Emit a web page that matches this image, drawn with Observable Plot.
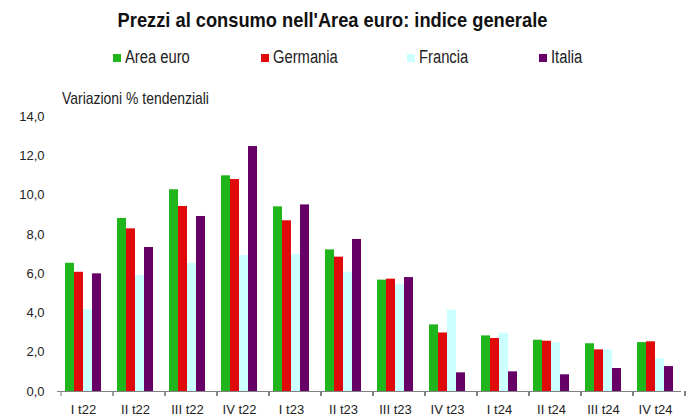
<!DOCTYPE html>
<html>
<head>
<meta charset="utf-8">
<script src="https://cdn.jsdelivr.net/npm/d3@7"></script>
<script src="https://cdn.jsdelivr.net/npm/@observablehq/plot@0.6"></script>
<style>
  body { margin: 0; background: #fff; font-family: "Liberation Sans", Arial, sans-serif; color: #222; }
  #wrap { position: relative; width: 691px; height: 417px; overflow: hidden; background: #fff; }
  #title { position: absolute; left: 0; width: 665px; top: 8px; text-align: center; font-weight: bold; font-size: 21px; color: #111; transform: scaleX(0.87); transform-origin: 332.5px 0; white-space: nowrap; }
  #legend { position: absolute; left: 0; top: 47px; width: 691px; height: 24px; font-size: 18px; color: #222; }
  #legend .item { position: absolute; top: 0; display: flex; align-items: center; white-space: nowrap; }
  #legend .sw { width: 8px; height: 8px; margin-right: 4px; flex: none; }
  #legend .tx { display: inline-block; transform: scaleX(0.82); transform-origin: 0 50%; }
  #sub { position: absolute; left: 62px; top: 89px; font-size: 17px; color: #222; transform: scaleX(0.82); transform-origin: 0 0; white-space: nowrap; z-index: 2; }
  #chart { position: absolute; left: 0; top: 80px; z-index: 1; }
</style>
</head>
<body>
<div id="wrap">
  <div id="title">Prezzi al consumo nell'Area euro: indice generale</div>
  <div id="legend"></div>
  <div id="chart"></div>
  <div id="sub">Variazioni % tendenziali</div>
</div>
<script>
const quarters = ["I t22","II t22","III t22","IV t22","I t23","II t23","III t23","IV t23","I t24","II t24","III t24","IV t24"];
const series = ["Area euro","Germania","Francia","Italia"];
const colors = ["#1fb51b","#e00a0a","#ccffff","#660066"];
const areaEuro = [6.53, 8.81, 10.27, 10.98, 9.40, 7.21, 5.67, 3.39, 2.83, 2.61, 2.43, 2.49];
const germania = [6.07, 8.28, 9.42, 10.79, 8.69, 6.84, 5.72, 2.98, 2.70, 2.56, 2.12, 2.53];
const francia  = [4.17, 5.90, 6.52, 6.92, 6.97, 6.07, 5.45, 4.14, 2.97, 2.49, 2.12, 1.66];
const italia   = [5.99, 7.33, 8.91, 12.47, 9.50, 7.74, 5.80, 0.95, 1.00, 0.85, 1.17, 1.27];
const yTicks = [0, 2, 4, 6, 8, 10, 12, 14];

// layout (legend item left edges, px)
const legendLefts = [113, 261, 407, 539];

const seriesValues = [areaEuro, germania, francia, italia];
const data = quarters.flatMap((q, i) => series.map((s, j) => ({q, s, v: seriesValues[j][i]})));

// legend
const legend = document.getElementById("legend");
series.forEach((s, j) => {
  const it = document.createElement("div");
  it.className = "item";
  it.style.left = legendLefts[j] + "px";
  const sw = document.createElement("span");
  sw.className = "sw";
  sw.style.background = colors[j];
  const t = document.createElement("span");
  t.className = "tx";
  t.textContent = s;
  it.appendChild(sw); it.appendChild(t);
  legend.appendChild(it);
});

function boundaryTicks(index, scales, values, dimensions) {
  const g = d3.create("svg:g").attr("stroke", "#808080").attr("stroke-width", 1);
  const y0 = scales.y(0);
  const fx = scales.fx;
  let xs;
  if (fx) {
    const bw = typeof fx.bandwidth === "function" ? fx.bandwidth() : (fx(quarters[1]) - fx(quarters[0]));
    xs = quarters.map(q => fx(q));
    xs.push(fx(quarters[quarters.length - 1]) + bw);
  } else {
    xs = [dimensions.marginLeft, dimensions.width - dimensions.marginRight];
  }
  for (const x of xs) {
    g.append("line").attr("x1", x).attr("x2", x).attr("y1", y0).attr("y2", y0 + 5);
  }
  return g.node();
}

const fmt = d => d.toFixed(1).replace(".", ",");

const chart = Plot.plot({
  width: 691,
  height: 337,
  marginTop: 36,
  marginBottom: 26,
  marginLeft: 53,
  marginRight: 6,
  style: {fontFamily: '"Liberation Sans", Arial, sans-serif', fontSize: "13px", color: "#222", background: "transparent"},
  fx: {domain: quarters, padding: 0, label: null, tickSize: 0, tickPadding: 13, axis: "bottom"},
  x: {domain: series, axis: null, paddingInner: 0, paddingOuter: 0.72},
  y: {domain: [0, 14], ticks: yTicks, tickSize: 0, tickPadding: 13, tickFormat: fmt, label: null},
  color: {domain: series, range: colors},
  marks: [
    Plot.barY(data, {fx: "q", x: "s", y: "v", fill: "s"}),
    Plot.ruleY([0], {stroke: "#808080"}),
    boundaryTicks
  ]
});
document.getElementById("chart").appendChild(chart);
</script>
</body>
</html>
